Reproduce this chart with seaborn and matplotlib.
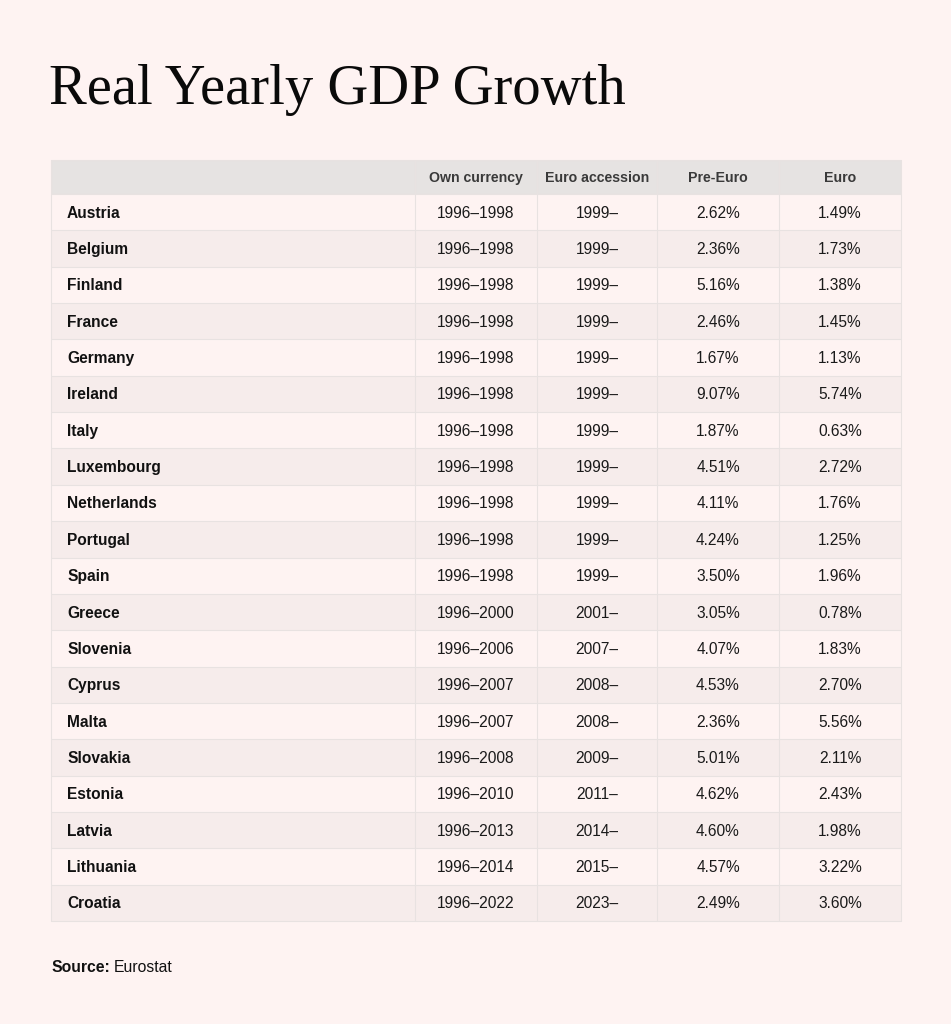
import numpy as np
import pandas as pd
import matplotlib.pyplot as plt
import seaborn as sns

# table data
countries = ['Austria', 'Belgium', 'Finland', 'France', 'Germany', 'Ireland', 'Italy',
             'Luxembourg', 'Netherlands', 'Portugal', 'Spain', 'Greece', 'Slovenia',
             'Cyprus', 'Malta', 'Slovakia', 'Estonia', 'Latvia', 'Lithuania', 'Croatia']
own_currency = ['1996–1998'] * 11 + ['1996–2000', '1996–2006', '1996–2007', '1996–2007',
                                     '1996–2008', '1996–2010', '1996–2013', '1996–2014',
                                     '1996–2022']
euro_accession = ['1999–'] * 11 + ['2001–', '2007–', '2008–', '2008–', '2009–',
                                   '2011–', '2014–', '2015–', '2023–']
pre_euro = [2.62, 2.36, 5.16, 2.46, 1.67, 9.07, 1.87, 4.51, 4.11, 4.24, 3.50,
            3.05, 4.07, 4.53, 2.36, 5.01, 4.62, 4.60, 4.57, 2.49]
euro = [1.49, 1.73, 1.38, 1.45, 1.13, 5.74, 0.63, 2.72, 1.76, 1.25, 1.96,
        0.78, 1.83, 2.70, 5.56, 2.11, 2.43, 1.98, 3.22, 3.60]
headers = ['', 'Own currency', 'Euro accession', 'Pre-Euro', 'Euro']

df = pd.DataFrame({'Country': countries, 'Own currency': own_currency,
                   'Euro accession': euro_accession,
                   'Pre-Euro': [f'{v:.2f}%' for v in pre_euro],
                   'Euro': [f'{v:.2f}%' for v in euro]})

sns.set_theme(style='white')
plt.rcParams['font.family'] = ['Liberation Sans', 'DejaVu Sans']

bg = '#fef3f2'
row_light = '#fef3f2'
row_dark = '#f6eceb'
head_col = '#e6e3e2'
line_col = '#e8e2e1'

fig = plt.figure(figsize=(9.51, 10.24), dpi=100, facecolor=bg)
ax = fig.add_axes([0, 0, 1, 1])
ax.set_facecolor(bg)
ax.set_xlim(0, 951)
ax.set_ylim(1024, 0)
ax.axis('off')

# column edges in pixel units
col_edges = [51, 415, 537, 657, 779, 901]
head_top, head_bot = 160, 194
row_h = (921 - head_bot) / len(countries)

# header band
ax.barh(head_top + (head_bot - head_top) / 2, col_edges[-1] - col_edges[0],
        height=head_bot - head_top, left=col_edges[0], color=head_col, linewidth=0)

# row stripes
row_y = head_bot + row_h * (np.arange(len(countries)) + 0.5)
stripe_colors = [row_light if i % 2 == 0 else row_dark for i in range(len(countries))]
ax.barh(row_y, col_edges[-1] - col_edges[0], height=row_h, left=col_edges[0],
        color=stripe_colors, linewidth=0)

# grid lines
bottom = head_bot + row_h * len(countries)
for x in col_edges:
    ax.plot([x, x], [head_top, bottom], color=line_col, lw=0.8)
for i in range(len(countries) + 1):
    y = head_bot + row_h * i
    ax.plot([col_edges[0], col_edges[-1]], [y, y], color=line_col, lw=0.8)
ax.plot([col_edges[0], col_edges[-1]], [head_top, head_top], color=line_col, lw=0.8)

# header text
centers = [(col_edges[i] + col_edges[i + 1]) / 2 for i in range(len(col_edges) - 1)]
for c, h in zip(centers[1:], headers[1:]):
    ax.text(c, (head_top + head_bot) / 2 + 1, h, ha='center', va='center',
            fontsize=10.2, fontweight='bold', color='#3a3a3a')

# body text
cols = ['Own currency', 'Euro accession', 'Pre-Euro', 'Euro']
for i, y in enumerate(row_y):
    ax.text(67, y + 1, df['Country'][i], ha='left', va='center',
            fontsize=11.2, fontweight='bold', color='#111111')
    for c, col in zip(centers[1:], cols):
        ax.text(c, y + 1, df[col][i], ha='center', va='center',
                fontsize=11.2, color='#1a1a1a')

# title
ax.text(49, 90, 'Real Yearly GDP Growth', ha='left', va='center',
        fontsize=40.8, family=['Liberation Serif', 'DejaVu Serif'], color='#0a0a0a')

# source
ax.text(51, 967, 'Source:', ha='left', va='center', fontsize=11.3,
        fontweight='bold', color='#111111')
ax.text(114, 967, 'Eurostat', ha='left', va='center', fontsize=11.3, color='#111111')

plt.savefig('out.png', dpi=100, facecolor=bg)
